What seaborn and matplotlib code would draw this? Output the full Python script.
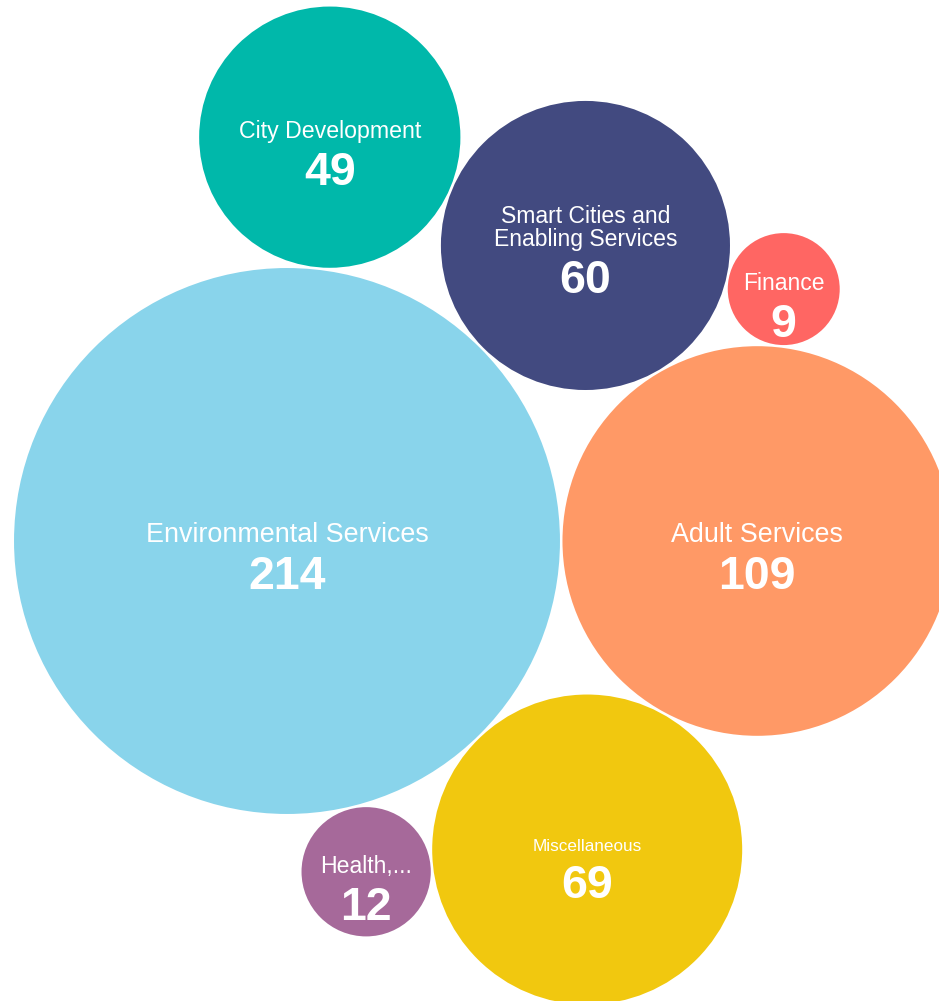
import numpy as np
import matplotlib
matplotlib.use("Agg")
import matplotlib.pyplot as plt
from matplotlib.patches import Circle
import seaborn as sns

# Data
categories = ["Environmental Services", "Adult Services", "Smart Cities and\nEnabling Services",
              "City Development", "Finance", "Miscellaneous", "Health,..."]
values = [214, 109, 60, 49, 9, 69, 12]
colors = ["#89D4EB", "#FF9966", "#424A80", "#00B8AA", "#FF6663", "#F1C80F", "#A6699A"]

sns.set_theme(style="white")
plt.rcParams["font.family"] = ["Liberation Sans", "DejaVu Sans"]

W, H, DPI = 939, 1001, 100
PX = 18.66          # pixels per sqrt-unit of radius
GAP = 2.5 / PX      # white gap between neighbouring bubbles

radii = np.sqrt(np.array(values, dtype=float))


def tangent(c_a, r_a, c_b, r_b, r, side):
    """Centre of a circle of radius r touching circles a and b."""
    c_a, c_b = np.asarray(c_a), np.asarray(c_b)
    da, db = r_a + r + GAP, r_b + r + GAP
    d_vec = c_b - c_a
    d = np.hypot(*d_vec)
    u = d_vec / d
    n = np.array([-u[1], u[0]])
    along = (d * d + da * da - db * db) / (2 * d)
    perp = np.sqrt(max(da * da - along * along, 0.0))
    return c_a + along * u + side * perp * n


idx = {name.split("\n")[0]: i for i, name in enumerate(categories)}
centers = [None] * len(values)
E = idx["Environmental Services"]
A = idx["Adult Services"]
S = idx["Smart Cities and"]
C = idx["City Development"]
F = idx["Finance"]
M = idx["Miscellaneous"]
Hh = idx["Health,..."]

centers[E] = np.array([0.0, 0.0])
centers[A] = np.array([radii[E] + radii[A] + GAP, 0.0])
centers[S] = tangent(centers[E], radii[E], centers[A], radii[A], radii[S], +1)
centers[C] = tangent(centers[E], radii[E], centers[S], radii[S], radii[C], +1)
centers[F] = tangent(centers[S], radii[S], centers[A], radii[A], radii[F], +1)
centers[M] = tangent(centers[E], radii[E], centers[A], radii[A], radii[M], -1)
centers[Hh] = tangent(centers[E], radii[E], centers[M], radii[M], radii[Hh], -1)

fig = plt.figure(figsize=(W / DPI, H / DPI), dpi=DPI)
ax = fig.add_axes([0, 0, 1, 1])
palette = sns.color_palette(colors)

for i, (c, r) in enumerate(zip(centers, radii)):
    ax.add_patch(Circle(c, r, facecolor=palette[i], edgecolor="none"))

label_sizes = {E: 19.4, A: 19.4, S: 16.6, C: 16.7, F: 16.5, Hh: 16.6, M: 12.3}
px2pt = 72 / DPI
for i, (c, name, v) in enumerate(zip(centers, categories, values)):
    ax.annotate(name, xy=c, xytext=(0, -1 * px2pt), textcoords="offset points",
                ha="center", va="baseline", color="white",
                fontsize=label_sizes[i], linespacing=1.0)
    ax.annotate(f"{v}", xy=c, xytext=(0, -48 * px2pt), textcoords="offset points",
                ha="center", va="baseline", color="white",
                fontsize=33.5, fontweight="bold")

cx_px, cy_px = 287, 541
ax.set_xlim(-cx_px / PX, (W - cx_px) / PX)
ax.set_ylim(-(H - cy_px) / PX, cy_px / PX)
ax.set_aspect("equal", adjustable="box")
ax.axis("off")

fig.savefig("out.png", dpi=DPI, facecolor="white")
